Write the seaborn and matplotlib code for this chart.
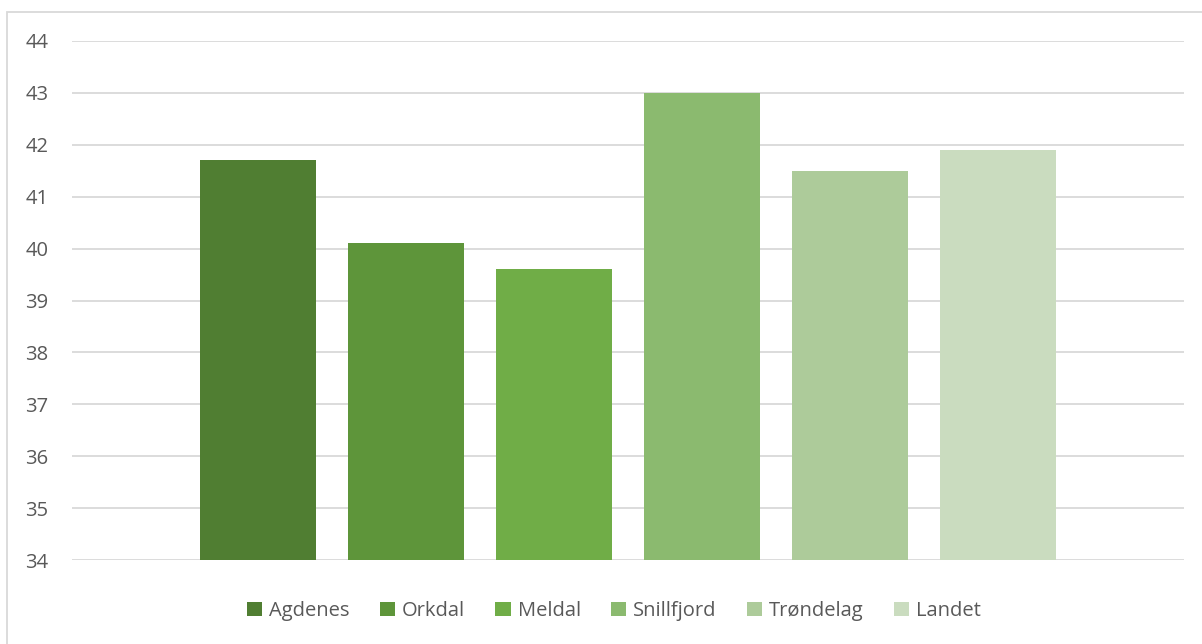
import matplotlib
matplotlib.use("Agg")
import matplotlib.pyplot as plt
from matplotlib.patches import Rectangle, Patch
import seaborn as sns
import pandas as pd

# Municipalities and values
kommuner = ["Agdenes", "Orkdal", "Meldal", "Snillfjord", "Trøndelag", "Landet"]
verdier = [41.7, 40.1, 39.6, 43.0, 41.5, 41.9]
farger = ["#507E32", "#5E953A", "#70AD47", "#8BBA6F", "#ADCB9A", "#CADCBF"]
y_ticks = [34, 35, 36, 37, 38, 39, 40, 41, 42, 43, 44]

sns.set_theme(style="white")
plt.rcParams["font.family"] = ["Open Sans", "DejaVu Sans"]

W, H = 1202, 644
fig = plt.figure(figsize=(W / 100, H / 100), dpi=100)
ax = fig.add_axes([72 / W, 1 - 560 / H, (1184 - 72) / W, (560 - 41) / H])

df = pd.DataFrame({"kommune": kommuner, "verdi": verdier})
sns.barplot(data=df, x="kommune", y="verdi", hue="kommune", palette=farger,
            width=0.79, saturation=1, legend=False, linewidth=0, ax=ax, zorder=3)

ax.set_ylim(34, 44)
ax.set_xlim(-1.257, 6.257)
ax.set_yticks(y_ticks)
ax.set_yticklabels([str(t) for t in y_ticks])
ax.set_xticks([])
ax.set_xlabel("")
ax.set_ylabel("")
ax.yaxis.grid(True, color="#D9D9D9", linewidth=1.3, zorder=0)
ax.set_axisbelow(True)
for s in ax.spines.values():
    s.set_visible(False)
ax.tick_params(axis="y", length=0, pad=17, labelsize=14.5, labelcolor="#595959")

# legend below the plot
handles = [Patch(facecolor=c, edgecolor="none") for c in farger]
fig.legend(handles, kommuner, loc="center", bbox_to_anchor=(614 / W, 1 - 611 / H),
           ncol=6, frameon=False, fontsize=14.5, labelcolor="#595959",
           handlelength=0.75, handleheight=0.75, handletextpad=0.35,
           columnspacing=1.5)

# chart area border
fig.patches.append(Rectangle((7 / W, -0.1), 1.2, 1 - 12 / H + 0.1,
                             transform=fig.transFigure, fill=False,
                             edgecolor="#D9D9D9", linewidth=1.3))

fig.savefig("out.png", dpi=100)
